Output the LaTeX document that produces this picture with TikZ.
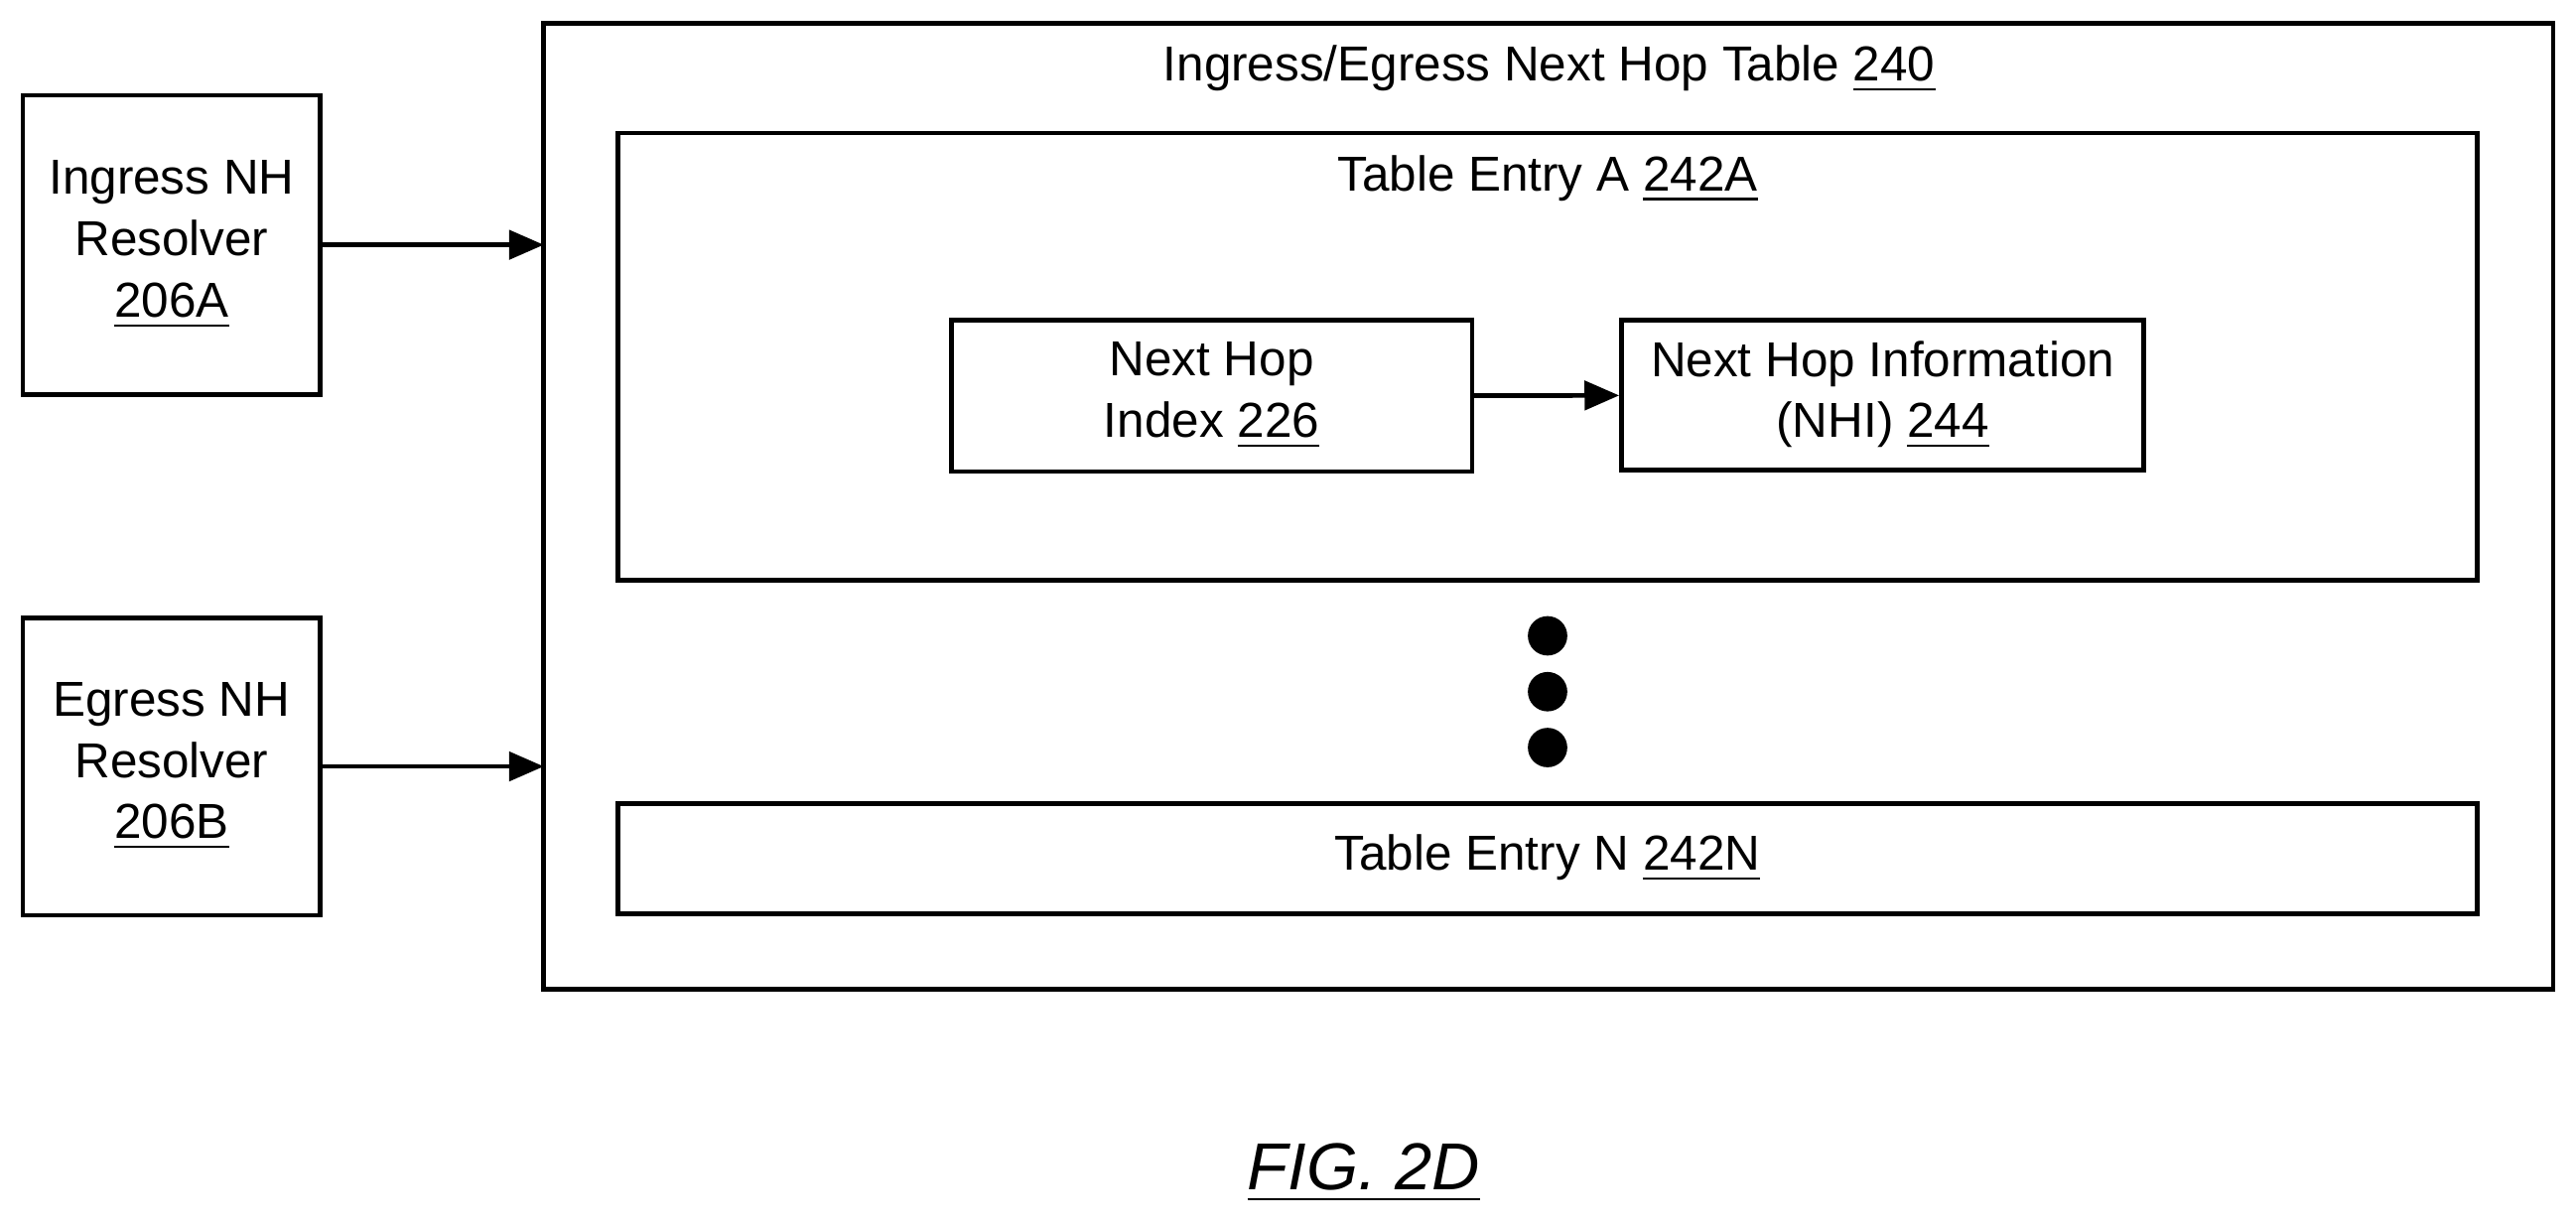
\documentclass[tikz,border=0pt]{standalone}
\usepackage{fontspec}
\setmainfont{Liberation Sans}
\usetikzlibrary{arrows.meta}
\tikzset{
  box/.style={draw, line width=0.8pt, align=center, inner sep=0pt,
    font=\fontsize{8.5}{10.6}\selectfont},
  flow/.style={-{Triangle[length=6pt,width=5pt]}, line width=0.8pt},
  dot/.style={circle, fill=black, minimum size=2.4mm, inner sep=0pt}
}
\begin{document}
\begin{tikzpicture}[x=0.1mm,y=-0.1mm]
\useasboundingbox (0,0) rectangle (1568,746);
% outer table
\node[box, minimum width=122.3mm, minimum height=58.8mm] (tbl) at (942.5,308) {};
\node[box, draw=none] (tbltitle) at (943,42) {Ingress/Egress Next Hop Table \underline{240}};
% resolvers
\node[box, minimum width=18.1mm, minimum height=18.2mm] (ing) at (104.5,149) {Ingress NH\\Resolver\\\underline{206A}};
\node[box, minimum width=18.1mm, minimum height=18.1mm] (egr) at (104.5,466.5) {Egress NH\\Resolver\\\underline{206B}};
\coordinate (ingend) at (331,149);
\coordinate (egrend) at (331,466.5);
\draw[flow] (ing) -- (ingend);
\draw[flow] (egr) -- (egrend);
% entry A
\node[box, minimum width=113.2mm, minimum height=27.2mm] (entA) at (942,217) {};
\node[box, draw=none] (entAtitle) at (942,109) {Table Entry A \underline{242A}};
\node[box, minimum width=31.7mm, minimum height=9.2mm] (idx) at (737.5,241) {Next Hop\\Index \underline{226}};
\node[box, minimum width=31.8mm, minimum height=9.1mm] (nhi) at (1146,240.5) {Next Hop Information\\(NHI) \underline{244}};
\draw[flow] (idx) -- (nhi);
% ellipsis
\foreach \y in {387,421,455}
  \node[dot] at (942,\y) {};
% entry N
\node[box, minimum width=113.2mm, minimum height=6.7mm] (entN) at (942,522.5) {Table Entry N \underline{242N}};
% caption
\node[font=\fontsize{11.5}{13}\selectfont\itshape] (fig) at (830,714) {\underline{FIG. 2D}};
\end{tikzpicture}
\end{document}
